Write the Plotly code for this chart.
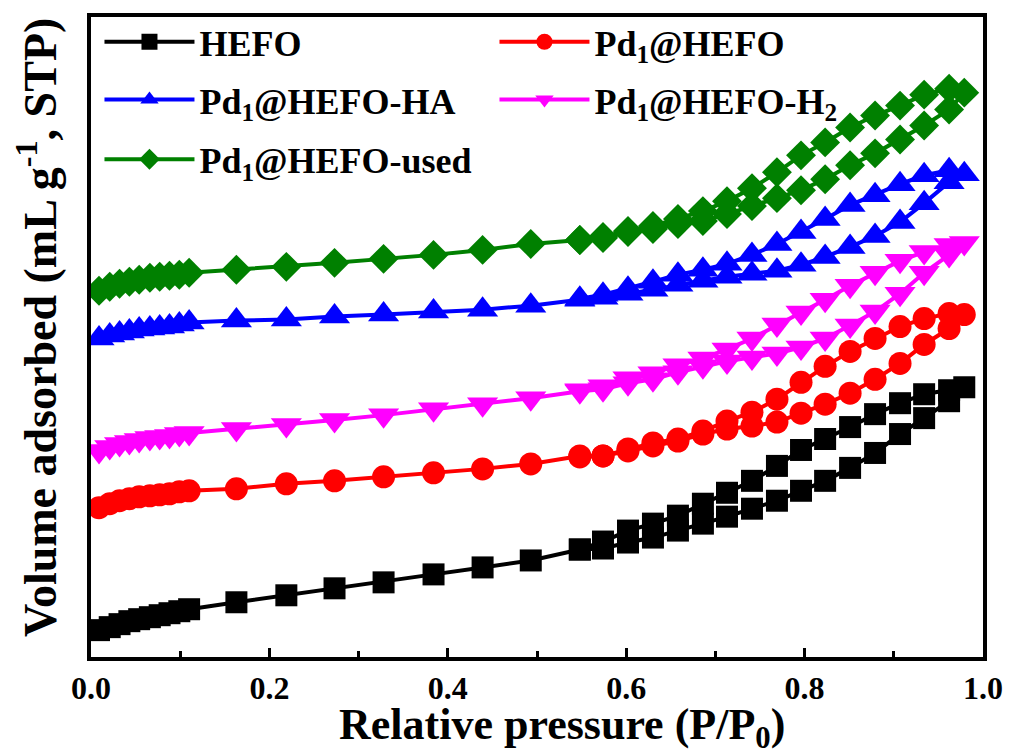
import plotly.graph_objects as go

# Relative pressure (P/P0) of the adsorption and desorption branches
p_ads = [0.009, 0.021, 0.032, 0.043, 0.054, 0.066, 0.077, 0.088, 0.099, 0.110,
         0.163, 0.219, 0.273, 0.328, 0.384, 0.439, 0.493, 0.548, 0.574, 0.602,
         0.630, 0.658, 0.686, 0.713, 0.741, 0.769, 0.796, 0.823, 0.851, 0.879,
         0.907, 0.934, 0.962, 0.979]
p_des = [0.962, 0.934, 0.907, 0.879, 0.851, 0.823, 0.796, 0.769, 0.741, 0.713,
         0.686, 0.658, 0.630, 0.602, 0.574, 0.548]

# Volume adsorbed (offset curves, arbitrary units)
hefo_ads = [13.5, 15, 16.5, 18, 19, 20, 21, 22, 23, 24,
            27.5, 31, 34.5, 37.5, 41.5, 45, 48.5, 54, 54.5, 57.5,
            60, 63.5, 67, 70.5, 74.5, 78.5, 83.5, 88.5, 95, 102.5,
            112, 120, 128.5, 135.5]
hefo_des = [134, 132, 127.5, 122, 115.5, 109.5, 104, 96, 88.5, 82.5,
            77, 71, 67, 63.5, 58, 54]

pd_ads = [75, 77, 78.5, 79.5, 80.5, 81, 81.5, 82, 83, 83.5,
          84.5, 87, 88.5, 90.5, 92.5, 94.5, 97, 101, 101, 103.5,
          106, 108.5, 112, 114.5, 116, 118, 122.5, 127, 132.5, 139.5,
          147.5, 157, 165, 172]
pd_des = [172.5, 170, 166, 160, 153.5, 146, 138, 129.5, 123, 118.5,
          113.5, 109.5, 107.5, 104.5, 101, 100.5]

ha_ads = [160, 161.5, 162.5, 163.5, 164.5, 165, 165.5, 166, 167, 168,
          169, 169.5, 171, 172, 173.5, 174.5, 176.5, 179.5, 180.5, 182.5,
          184.5, 187, 189, 191, 192.5, 194, 197, 201, 206, 211.5,
          218.5, 228, 238.5, 242.5]
ha_des = [244.5, 242, 237.5, 232, 227, 220, 213.5, 207.5, 202, 197.5,
          194.5, 192, 188.5, 185, 182, 180]

h2_ads = [103.5, 105.5, 107, 108, 109, 110, 110.5, 111, 112, 112.5,
          114.5, 116.5, 119, 121.5, 124.5, 127, 130, 133.5, 134.5, 137.5,
          139.5, 143, 146, 148.5, 150.5, 152.5, 155.5, 160, 166.5, 173.5,
          182.5, 193, 202, 208]
h2_des = [207, 203.5, 199, 193, 186.5, 179.5, 173, 167, 160, 154.5,
          150, 146.5, 142.5, 140, 136, 134]

used_ads = [184, 186, 187.5, 188.5, 189.5, 190.5, 191, 191.5, 192, 193,
            194.5, 196, 198, 200, 202, 204.5, 207.5, 209.5, 210.5, 213.5,
            215, 217.5, 219, 222.5, 226.5, 230.5, 234.5, 240, 247, 253,
            260, 267, 275, 283.5]
used_des = [285.5, 282.5, 277, 272, 266, 258.5, 252, 243.5, 235.5, 229,
            224, 220, 216.5, 214, 211, 209.5]

# name, adsorption, desorption, colour, marker, marker size, legend row
series = [
    ("HEFO", hefo_ads, hefo_des, "#000000", "square", 22, "legend"),
    ("Pd<sub>1</sub>@HEFO", pd_ads, pd_des, "#ff0000", "circle", 23, "legend"),
    ("Pd<sub>1</sub>@HEFO-HA", ha_ads, ha_des, "#0000ff", "triangle-up", 27, "legend2"),
    ("Pd<sub>1</sub>@HEFO-H<sub>2</sub>", h2_ads, h2_des, "#ff00ff", "triangle-down", 27, "legend2"),
    ("Pd<sub>1</sub>@HEFO-used", used_ads, used_des, "#008000", "diamond", 23, "legend3"),
]

FONT = "Liberation Serif"

fig = go.Figure()
for name, ads, des, color, symbol, size, leg in series:
    fig.add_trace(go.Scatter(
        x=p_ads + p_des,
        y=ads + des,
        mode="lines+markers",
        name=name,
        legend=leg,
        line=dict(color=color, width=4),
        marker=dict(symbol=symbol, size=size, color=color, line=dict(width=0)),
    ))


def legend_row(y):
    return dict(
        orientation="h",
        x=0.0095,
        y=y,
        xanchor="left",
        yanchor="middle",
        bgcolor="rgba(0,0,0,0)",
        font=dict(family=FONT, size=36, color="black", weight="bold"),
        itemwidth=90,
        entrywidth=290,
        entrywidthmode="pixels",
        traceorder="normal",
    )


fig.update_layout(
    width=1015,
    height=749,
    margin=dict(l=91, r=25, t=14, b=92),
    paper_bgcolor="white",
    plot_bgcolor="white",
    font=dict(family=FONT, color="black", weight="bold"),
    showlegend=True,
    legend=legend_row(0.9612),
    legend2=legend_row(0.8709),
    legend3=legend_row(0.7776),
    xaxis=dict(
        range=[0, 1.0],
        dtick=0.2,
        tick0=0,
        tickformat=".1f",
        ticks="inside",
        ticklen=9,
        tickwidth=3,
        tickcolor="black",
        minor=dict(dtick=0.1, ticks="inside", ticklen=6, tickwidth=3, tickcolor="black"),
        showline=True,
        linewidth=4,
        linecolor="black",
        mirror=True,
        showgrid=False,
        zeroline=False,
        tickfont=dict(family=FONT, size=32, color="black", weight="bold"),
    ),
    yaxis=dict(
        range=[0, 321.5],
        showticklabels=False,
        ticks="",
        showline=True,
        linewidth=4,
        linecolor="black",
        mirror=True,
        showgrid=False,
        zeroline=False,
    ),
    annotations=[
        dict(
            text="Relative pressure (P/P<sub>0</sub>)",
            xref="paper", yref="paper",
            x=0.528, y=-0.064,
            xanchor="center", yanchor="top",
            showarrow=False,
            font=dict(family=FONT, size=44, color="black", weight="bold"),
        ),
        dict(
            text="Volume adsorbed (mL g<sup>-1</sup>, STP)",
            xref="paper", yref="paper",
            x=-0.0605, y=0.514,
            xanchor="center", yanchor="middle",
            textangle=-90,
            showarrow=False,
            font=dict(family=FONT, size=46, color="black", weight="bold"),
        ),
    ],
)

fig.write_html("out.html")
